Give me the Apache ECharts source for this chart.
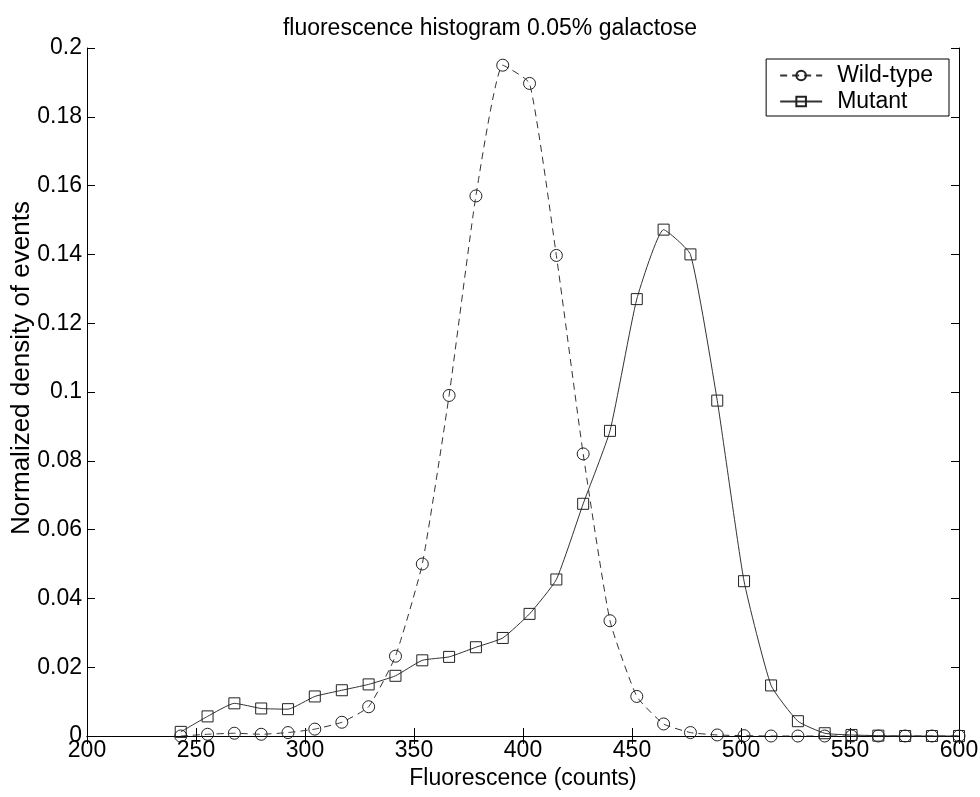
<!DOCTYPE html>
<html><head><meta charset="utf-8">
<script src="https://cdn.jsdelivr.net/npm/echarts@6/dist/echarts.min.js"></script>
<style>html,body{margin:0;padding:0;background:#fff}#c{width:980px;height:797px}</style>
</head><body><div id="c"></div>
<script>
const fluorescence = [243.0, 255.3, 267.6, 279.9, 292.2, 304.5, 316.9, 329.2, 341.5, 353.8, 366.1, 378.4, 390.7, 403.0, 415.3, 427.6, 439.9, 452.2, 464.5, 476.8, 489.1, 501.4, 513.8, 526.1, 538.4, 550.7, 563.0, 575.3, 587.6, 600.0];
const wildType = [0.0000, 0.0005, 0.0008, 0.0005, 0.0010, 0.0020, 0.0040, 0.0085, 0.0232, 0.0500, 0.0990, 0.1570, 0.1950, 0.1897, 0.1397, 0.0820, 0.0335, 0.0115, 0.0035, 0.0010, 0.0003, 0.0001, 0.0000, 0.0000, 0.0000, 0.0000, 0.0000, 0.0000, 0.0000, 0.0000];
const mutant = [0.0012, 0.0057, 0.0095, 0.0080, 0.0078, 0.0115, 0.0133, 0.0150, 0.0175, 0.0220, 0.0230, 0.0258, 0.0285, 0.0355, 0.0455, 0.0675, 0.0887, 0.1270, 0.1472, 0.1400, 0.0975, 0.0450, 0.0147, 0.0043, 0.0008, 0.0003, 0.0001, 0.0000, 0.0000, 0.0000];
const xTicks = [200, 250, 300, 350, 400, 450, 500, 550, 600];
const yTicks = [0, 0.02, 0.04, 0.06, 0.08, 0.1, 0.12, 0.14, 0.16, 0.18, 0.2];
const titleText = 'fluorescence histogram 0.05% galactose';
const xName = 'Fluorescence (counts)';
const yName = 'Normalized density of events';
const seriesNames = ['Wild-type', 'Mutant'];

const font = 'Liberation Sans, Arial, sans-serif';
const chart = echarts.init(document.getElementById('c'));
const axisLine = {show: true, lineStyle: {color: '#000', width: 1}};
const tick = {show: true, inside: true, length: 8, lineStyle: {color: '#000'}};
const xBase = {type: 'value', min: xTicks[0], max: xTicks[xTicks.length-1], interval: 50, splitLine: {show: false}, axisLine: axisLine, axisTick: tick};
const yBase = {type: 'value', min: yTicks[0], max: yTicks[yTicks.length-1], interval: 0.02, splitLine: {show: false}, axisLine: axisLine, axisTick: tick};
const pairs = a => fluorescence.map((x, i) => [x, a[i]]);

chart.setOption({
  animation: false,
  backgroundColor: '#fff',
  title: {text: titleText, left: 'center', top: 12,
    textStyle: {fontFamily: font, fontSize: 23, fontWeight: 'normal', color: '#000'}},
  grid: {left: 87, right: 21, top: 48, bottom: 61, outerBoundsMode: 'none', containLabel: false},
  legend: {right: 31, top: 59, orient: 'vertical', borderColor: '#000', borderWidth: 1,
    padding: [5, 16, 3, 13], itemGap: 3, itemWidth: 42, itemHeight: 12, backgroundColor: '#fff',
    textStyle: {fontFamily: font, fontSize: 23, color: '#000', padding: [0, 0, 0, 10]},
    data: seriesNames},
  graphic: [{type: 'text', x: 22, y: 368, rotation: Math.PI / 2,
    style: {text: yName, font: '26px ' + font, fill: '#000', textAlign: 'center', textVerticalAlign: 'middle'}}],
  xAxis: [
    Object.assign({}, xBase, {position: 'bottom', name: xName, nameLocation: 'middle', nameGap: 31,
      nameTextStyle: {fontFamily: font, fontSize: 23, color: '#000'},
      axisLabel: {fontFamily: font, fontSize: 23, color: '#000', margin: 3, formatter: v => String(v)}}),
    Object.assign({}, xBase, {position: 'top', axisLabel: {show: false}})
  ],
  yAxis: [
    Object.assign({}, yBase, {position: 'left',
      axisLabel: {fontFamily: font, fontSize: 23, color: '#000', margin: 5, formatter: v => String(+v.toFixed(2))}}),
    Object.assign({}, yBase, {position: 'right', axisLabel: {show: false}})
  ],
  series: [
    {name: seriesNames[0], type: 'line', data: pairs(wildType), smooth: 0.15,
     symbol: 'circle', symbolSize: 12,
     itemStyle: {color: 'rgba(255,255,255,0)', borderColor: '#222', borderWidth: 1},
     lineStyle: {color: '#333', width: 1, type: [7, 5]}},
    {name: seriesNames[1], type: 'line', data: pairs(mutant), smooth: 0.15,
     symbol: 'rect', symbolSize: 11,
     itemStyle: {color: 'rgba(255,255,255,0)', borderColor: '#222', borderWidth: 1},
     lineStyle: {color: '#333', width: 1}}
  ]
});
</script></body></html>
